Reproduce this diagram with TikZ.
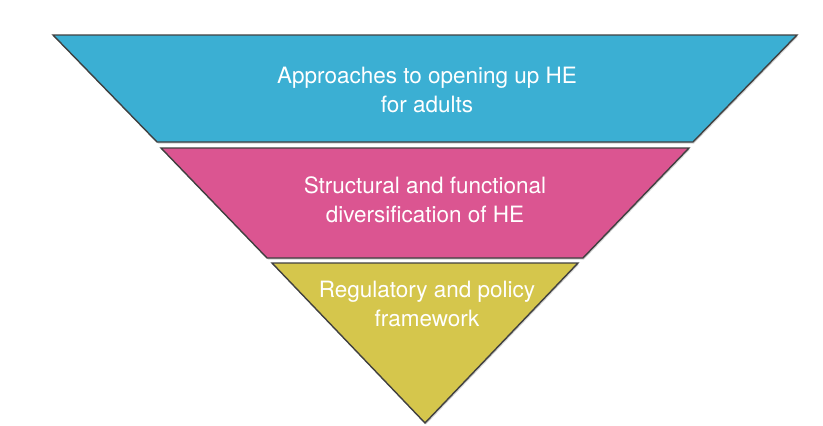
\documentclass[tikz,border=0pt]{standalone}
\usepackage{fontspec}
\setmainfont{TeX Gyre Heros}
\usepackage{xcolor}
\usetikzlibrary{shadows}

\definecolor{bandblue}{HTML}{3BAFD3}
\definecolor{bandpink}{HTML}{DB5591}
\definecolor{bandyellow}{HTML}{D5C64C}

\begin{document}
\begin{tikzpicture}[x=1pt,y=-1pt,
    band/.style={draw=black!75, line width=1.4pt, line join=miter,
        drop shadow={shadow xshift=1pt, shadow yshift=-1.5pt, opacity=0.35}},
    bandtext/.style={text=white, align=center, font=\fontsize{22.5}{29}\selectfont}]
                \useasboundingbox (0,0) rectangle (823,426);
                % the three bands of the inverted triangle
                \filldraw[band, fill=bandblue](53,35) -- (797,35) -- (693,142) -- (157,142) -- cycle;
                \filldraw[band, fill=bandpink](161,148) -- (689,148) -- (583,258) -- (267,258) -- cycle;
                \filldraw[band, fill=bandyellow](272,263) -- (578,263) -- (425,423) -- cycle;
                % labels
                \node[bandtext] (access) at (427,90) {Approaches to opening up HE\\for adults};
                \node[bandtext] (divers) at (425,200) {Structural and functional\\diversification of HE};
                \node[bandtext] (policy) at (427,304) {Regulatory and policy\\framework};
            \end{tikzpicture}
\end{document}
